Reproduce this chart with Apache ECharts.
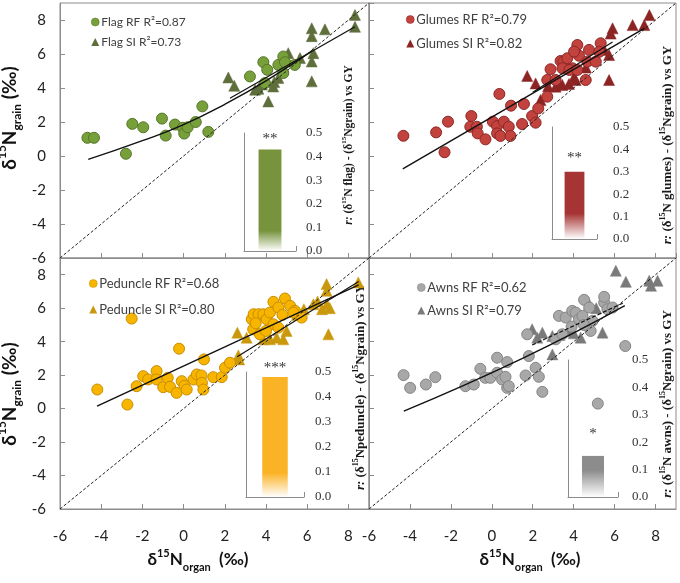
<!DOCTYPE html>
<html><head><meta charset="utf-8">
<script src="https://cdn.jsdelivr.net/npm/echarts@6/dist/echarts.min.js"></script>
<style>html,body{margin:0;padding:0;background:#fff}#c{width:680px;height:583px}</style>
</head><body><div id="c"></div>
<script>
// ---------------- data ----------------
const axisMin = -6, axisMax = 9, axisStep = 2;
const oneToOne = [[-6, -6], [9, 9]];

const flagRF = [[-4.67,1.07],[-4.35,1.07],[-2.8,0.13],[-2.49,1.89],[-1.96,1.69],[-1.05,2.2],[-0.87,1.2],[-0.42,1.85],[-0.04,1.66],[0.03,1.32],[0.2,1.69],[0.59,2.0],[0.91,2.92],[1.2,1.42],[3.22,4.68],[3.87,5.52],[4.06,5.07],[3.95,4.29],[4.6,5.36],[4.84,5.85],[4.92,5.52],[4.84,4.88],[5.4,5.36]];
const flagSI = [[2.17,4.62],[2.46,4.13],[3.47,3.9],[3.63,3.95],[4.11,3.21],[4.35,4.09],[4.6,4.59],[4.4,4.35],[5.08,6.05],[5.65,5.76],[6.22,7.51],[6.22,7.05],[6.86,7.45],[6.3,6.05],[6.22,5.56],[6.22,4.39],[8.32,8.3],[8.32,7.6],[3.8,4.2],[5.0,5.7]];
const flagRFLine = [[-4.63,-0.2],[-2,0.9],[0,1.85],[2,3.04],[4,4.42],[6.2,6.15]];
const flagSILine = [[2.25,3.4],[8.32,7.6]];

const glumesRF = [[-4.32,1.19],[-2.72,1.39],[-2.31,0.22],[-2.14,2.02],[-1.0,2.35],[-1.05,1.72],[-0.73,1.72],[-0.69,1.33],[-0.31,0.98],[0.37,3.65],[0.05,2.02],[0.26,1.76],[0.26,1.33],[0.42,1.18],[0.59,2.02],[0.83,1.72],[0.91,1.18],[0.94,2.96],[1.57,3.06],[1.48,1.88],[1.97,2.35],[2.14,1.96],[2.27,2.8],[2.71,4.47],[2.87,5.1],[3.36,5.59],[3.5,5.55],[3.69,5.75],[3.94,5.16],[3.45,5.16],[3.79,5.06],[4.18,5.06],[4.18,6.53],[4.26,5.9],[4.02,6.14],[4.75,6.24],[4.67,5.55],[5.08,5.55],[4.59,4.47],[5.32,6.63],[5.25,6.13],[3.12,4.47],[2.71,3.49]];
const glumesSI = [[1.73,4.71],[2.14,4.27],[2.38,3.29],[2.75,4.1],[3.12,4.08],[3.45,4.18],[3.77,4.24],[4.02,4.65],[4.1,4.47],[5.25,6.43],[5.49,6.24],[5.73,5.94],[5.73,4.47],[5.9,7.51],[5.81,7.2],[6.88,7.7],[7.45,7.7],[7.7,8.29],[3.3,4.3],[4.6,5.2]];
const glumesRFLine = [[-4.35,-0.76],[7.45,7.51]];
const glumesSILine = [[2.0,3.75],[5.9,6.7]];

const peduncleRF = [[-4.19,1.14],[-2.73,0.24],[-2.52,5.38],[-2.28,1.34],[-1.96,1.94],[-1.72,1.74],[-1.31,2.24],[-1.31,1.74],[-0.99,1.28],[-0.77,1.84],[-0.66,1.3],[-0.34,0.94],[-0.22,3.58],[-0.09,1.64],[0.04,1.36],[0.15,1.14],[0.48,1.74],[0.64,2.04],[0.87,1.98],[0.89,1.54],[0.96,1.14],[0.99,2.94],[1.44,1.88],[1.85,1.88],[2.01,2.44],[2.25,2.74],[3.31,5.34],[3.4,5.64],[3.64,5.64],[3.87,5.64],[4.03,5.34],[4.19,5.74],[4.36,5.04],[4.36,6.38],[4.6,4.84],[4.6,6.04],[4.92,6.58],[5.17,6.14],[5.41,5.84],[5.33,5.74],[5.73,5.44],[3.38,4.74],[3.7,4.44],[4.0,4.64],[3.5,5.1],[4.8,5.6]];
const peduncleSI = [[2.61,4.54],[2.66,3.18],[2.7,2.94],[3.06,4.24],[3.87,4.14],[4.19,4.14],[4.52,4.24],[4.84,4.14],[5.0,4.64],[5.84,5.94],[6.3,6.24],[6.72,5.94],[6.96,6.24],[6.94,7.44],[6.94,7.04],[7.03,4.44],[8.48,7.54],[6.5,6.4],[7.1,6.0],[5.5,5.6]];
const peduncleRFLine = [[-4.2,0.15],[8.5,7.4]];
const peduncleSILine = [[2.6,3.1],[8.5,7.6]];

const awnsRF = [[-4.31,2.0],[-3.99,1.24],[-3.22,1.44],[-2.76,1.88],[-1.29,1.34],[-0.88,1.44],[-0.56,2.38],[-0.32,1.84],[-0.07,1.84],[0.26,3.04],[0.26,2.14],[0.5,1.74],[0.67,1.9],[0.75,2.78],[0.75,1.24],[0.83,1.34],[1.65,1.98],[1.81,3.14],[1.73,4.44],[2.14,2.44],[2.3,1.9],[2.47,1.0],[3.12,4.14],[3.28,5.54],[3.61,5.44],[3.45,4.44],[3.93,5.84],[4.1,5.74],[4.26,5.34],[4.43,5.54],[4.51,6.5],[4.76,6.04],[4.92,5.24],[4.83,4.64],[5.49,6.34],[5.49,6.68],[5.65,5.94],[5.9,6.04],[5.18,0.3],[6.52,3.74],[3.9,4.9],[4.5,5.0]];
const awnsSI = [[1.97,4.74],[2.22,4.24],[2.47,4.54],[2.96,4.34],[2.96,3.24],[3.3,4.4],[3.77,4.64],[4.34,4.24],[4.76,6.24],[5.41,4.54],[6.06,8.24],[6.55,7.58],[7.69,7.64],[7.78,7.34],[8.1,7.64],[5.1,6.0],[4.0,4.5]];
const awnsRFLine = [[-4.3,-0.15],[1.5,3.0],[6.5,6.15]];
const awnsSILine = [[1.97,3.8],[6.4,6.3]];

const barCategory = ['r'];
const barValues = [0.43, 0.30, 0.48, 0.15];
const barStars = ['**', '**', '***', '*'];
const organs = ['Flag', 'Glumes', 'Peduncle', 'Awns'];
const organLabel = ['N flag)', 'N glumes)', 'Npeduncle)', 'N awns)'];
const rfR2 = ['0.87', '0.79', '0.68', '0.62'];
const siR2 = ['0.73', '0.82', '0.80', '0.79'];

// ---------------- styles ----------------
const rfColor = ['#77a03a', '#c2433e', '#f7b500', '#a8a8a8'];
const rfBorder = ['#56762a', '#8e2626', '#c98e00', '#858585'];
const siColor = ['#5f6f3c', '#8c2424', '#c9980c', '#7a7a7a'];
const barColor = ['#77933c', '#a63434', '#fbb326', '#8c8c8c'];
const barFadeStart = [0.8, 0.62, 0.8, 0.35];
const starDist = [3, 6, 1, 14];

const grids = [
  {left: 60, top: 3, width: 309, height: 255},
  {left: 369, top: 3, width: 307, height: 255},
  {left: 60, top: 258, width: 309, height: 251},
  {left: 369, top: 258, width: 307, height: 251}
];
const insets = [
  {left: 244, top: 133, width: 52, height: 118},
  {left: 552, top: 127, width: 45, height: 112},
  {left: 246, top: 372, width: 58, height: 125},
  {left: 568, top: 360, width: 50, height: 137}
];
const insetLabelMargin = [10, 16, 11, 14];
const legendPos = [
  {left: 86, top: 11, gap: 8, fs: 12},
  {left: 401, top: 8, gap: 11, fs: 13},
  {left: 84, top: 272, gap: 13, fs: 13},
  {left: 412, top: 276, gap: 10, fs: 13}
];
const rotLabel = [
  {x: 349, y: 145, fs: 11.5},
  {x: 668, y: 145, fs: 13},
  {x: 361, y: 387, fs: 13},
  {x: 668, y: 404, fs: 13}
];

const gray = '#8c8c8c';
const sans = 'Lato';
const serif = 'Liberation Serif';

const gridArr = [], xAxes = [], yAxes = [], series = [], legends = [], graphics = [];

for (let p = 0; p < 4; p++) {
  gridArr.push(Object.assign({show: true, borderColor: gray, borderWidth: 1, containLabel: false}, grids[p]));
}
for (let p = 0; p < 4; p++) {
  gridArr.push(Object.assign({show: false, containLabel: false}, insets[p]));
}

for (let p = 0; p < 4; p++) {
  xAxes.push({
    type: 'value', gridIndex: p, min: axisMin, max: axisMax, interval: axisStep,
    axisLine: {show: true, onZero: false, lineStyle: {color: gray}},
    axisTick: {show: true, inside: true, length: 5, lineStyle: {color: gray}},
    splitLine: {show: false},
    axisLabel: {show: p >= 2, showMaxLabel: false, margin: 20, fontSize: 15, color: '#222', fontFamily: sans}
  });
}
for (let p = 0; p < 4; p++) {
  xAxes.push({
    type: 'category', gridIndex: 4 + p, data: barCategory,
    axisLine: {show: true, lineStyle: {color: gray}},
    axisTick: {show: true, inside: true, length: 5, lineStyle: {color: gray}},
    axisLabel: {show: false}
  });
}
for (let p = 0; p < 4; p++) {
  yAxes.push({
    type: 'value', gridIndex: p, min: axisMin, max: axisMax, interval: axisStep,
    axisLine: {show: true, onZero: false, lineStyle: {color: gray}},
    axisTick: {show: true, inside: true, length: 5, lineStyle: {color: gray}},
    splitLine: {show: false},
    axisLabel: {show: p % 2 === 0, showMaxLabel: false, margin: 14, fontSize: 15, color: '#222', fontFamily: sans, padding: [5, 0, 0, 0]}
  });
}
for (let p = 0; p < 4; p++) {
  yAxes.push({
    type: 'value', gridIndex: 4 + p, min: 0, max: 0.5, interval: 0.1, position: 'left',
    axisLine: {show: true, lineStyle: {color: gray}}, axisTick: {show: false},
    splitLine: {show: false}, axisLabel: {show: false}
  });
}
for (let p = 0; p < 4; p++) {
  yAxes.push({
    type: 'value', gridIndex: 4 + p, min: 0, max: 0.5, interval: 0.1, position: 'right',
    axisLine: {show: false}, axisTick: {show: false}, splitLine: {show: false},
    axisLabel: {show: true, margin: insetLabelMargin[p], fontSize: 13, color: '#333', fontFamily: serif,
      formatter: v => v.toFixed(1)}
  });
}

const rfData = [flagRF, glumesRF, peduncleRF, awnsRF];
const siData = [flagSI, glumesSI, peduncleSI, awnsSI];
const rfLines = [flagRFLine, glumesRFLine, peduncleRFLine, awnsRFLine];
const siLines = [flagSILine, glumesSILine, peduncleSILine, awnsSILine];

for (let p = 0; p < 4; p++) {
  const rfName = organs[p] + ' RF R²=' + rfR2[p];
  const siName = organs[p] + ' SI R²=' + siR2[p];
  series.push({
    name: siName, type: 'scatter', xAxisIndex: p, yAxisIndex: p, data: siData[p],
    symbol: 'triangle', symbolSize: 11, z: 2,
    itemStyle: {color: siColor[p], borderColor: siColor[p], borderWidth: 0.5, opacity: 1}
  });
  series.push({
    name: rfName, type: 'scatter', xAxisIndex: p, yAxisIndex: p, data: rfData[p],
    symbol: 'circle', symbolSize: 11, z: 2,
    itemStyle: {color: rfColor[p], borderColor: rfBorder[p], borderWidth: 1, opacity: 1}
  });
  series.push({
    type: 'line', xAxisIndex: p, yAxisIndex: p, data: rfLines[p], smooth: rfLines[p].length > 2,
    showSymbol: false, silent: true, z: 4, lineStyle: {color: '#111', width: 1.4}
  });
  series.push({
    type: 'line', xAxisIndex: p, yAxisIndex: p, data: siLines[p],
    showSymbol: false, silent: true, z: 4,
    lineStyle: {color: '#111', width: 1.2, type: p === 3 ? [4, 2] : 'solid'}
  });
  series.push({
    type: 'line', xAxisIndex: p, yAxisIndex: p, data: oneToOne,
    showSymbol: false, silent: true, z: 4, lineStyle: {color: '#222', width: 1, type: [3, 2]}
  });
  series.push({
    type: 'bar', xAxisIndex: 4 + p, yAxisIndex: 4 + p, data: [barValues[p]],
    barWidth: insets[p].width * 0.44, silent: true,
    itemStyle: {color: {type: 'linear', x: 0, y: 0, x2: 0, y2: 1, colorStops: [
      {offset: 0, color: barColor[p]}, {offset: barFadeStart[p], color: barColor[p]}, {offset: 1, color: '#ffffff'}]}},
    label: {show: true, position: 'top', distance: starDist[p], formatter: () => barStars[p],
      fontFamily: serif, fontSize: 15, color: '#333'}
  });
  legends.push({
    data: [
      {name: rfName, icon: 'circle', itemStyle: {borderWidth: 0.5}},
      {name: siName, icon: 'triangle', itemStyle: {borderWidth: 0}}
    ],
    orient: 'vertical', left: legendPos[p].left, top: legendPos[p].top,
    itemGap: legendPos[p].gap, itemWidth: 8, itemHeight: 8, selectedMode: false,
    textStyle: {fontSize: legendPos[p].fs, color: '#404040', fontFamily: sans, padding: [0, 0, 0, -3]}
  });
  const f = rotLabel[p].fs;
  graphics.push({
    type: 'text', x: rotLabel[p].x, y: rotLabel[p].y, rotation: Math.PI / 2, silent: true,
    style: {
      text: '{i|r:}{b| (δ}{s|15}{b|' + organLabel[p] + ' - (δ}{s|15}{b|Ngrain) vs GY}',
      align: 'center', verticalAlign: 'middle',
      rich: {
        i: {fontFamily: serif, fontWeight: 'bold', fontStyle: 'italic', fontSize: f, lineHeight: f + 6, fill: '#1a1a1a'},
        b: {fontFamily: serif, fontWeight: 'bold', fontSize: f, lineHeight: f + 6, fill: '#1a1a1a'},
        s: {fontFamily: serif, fontWeight: 'bold', fontSize: Math.round(f * 0.65), lineHeight: Math.round(f * 0.7), verticalAlign: 'top', fill: '#1a1a1a'}
      }
    }
  });
}

function titleRich(fs) {
  return {
    m: {fontFamily: sans, fontWeight: 'bold', fontSize: fs, lineHeight: fs + 8, fill: '#111'},
    sup: {fontFamily: sans, fontWeight: 'bold', fontSize: Math.round(fs * 0.62), lineHeight: Math.round(fs * 0.7), verticalAlign: 'top', fill: '#111'},
    sub: {fontFamily: sans, fontWeight: 'bold', fontSize: Math.round(fs * 0.62), lineHeight: Math.round(fs * 0.7), verticalAlign: 'bottom', fill: '#111'}
  };
}
const yTitlePos = [[10, 118], [10, 394]];
yTitlePos.forEach(pt => graphics.push({
  type: 'text', x: pt[0], y: pt[1], rotation: Math.PI / 2, silent: true,
  style: {text: '{m|δ}{sup|15}{m|N}{sub|grain}{m| (‰)}', align: 'center', verticalAlign: 'middle', rich: titleRich(19)}
}));
const xTitlePos = [[198, 560], [530, 560]];
xTitlePos.forEach(pt => graphics.push({
  type: 'text', x: pt[0], y: pt[1], silent: true,
  style: {text: '{m|δ}{sup|15}{m|N}{sub|organ}{m|  (‰)}', align: 'center', verticalAlign: 'middle', rich: titleRich(17)}
}));

const chart = echarts.init(document.getElementById('c'), null, {renderer: 'canvas'});
chart.setOption({
  animation: false,
  backgroundColor: '#fff',
  grid: gridArr, xAxis: xAxes, yAxis: yAxes, series: series, legend: legends, graphic: graphics
});
</script></body></html>
